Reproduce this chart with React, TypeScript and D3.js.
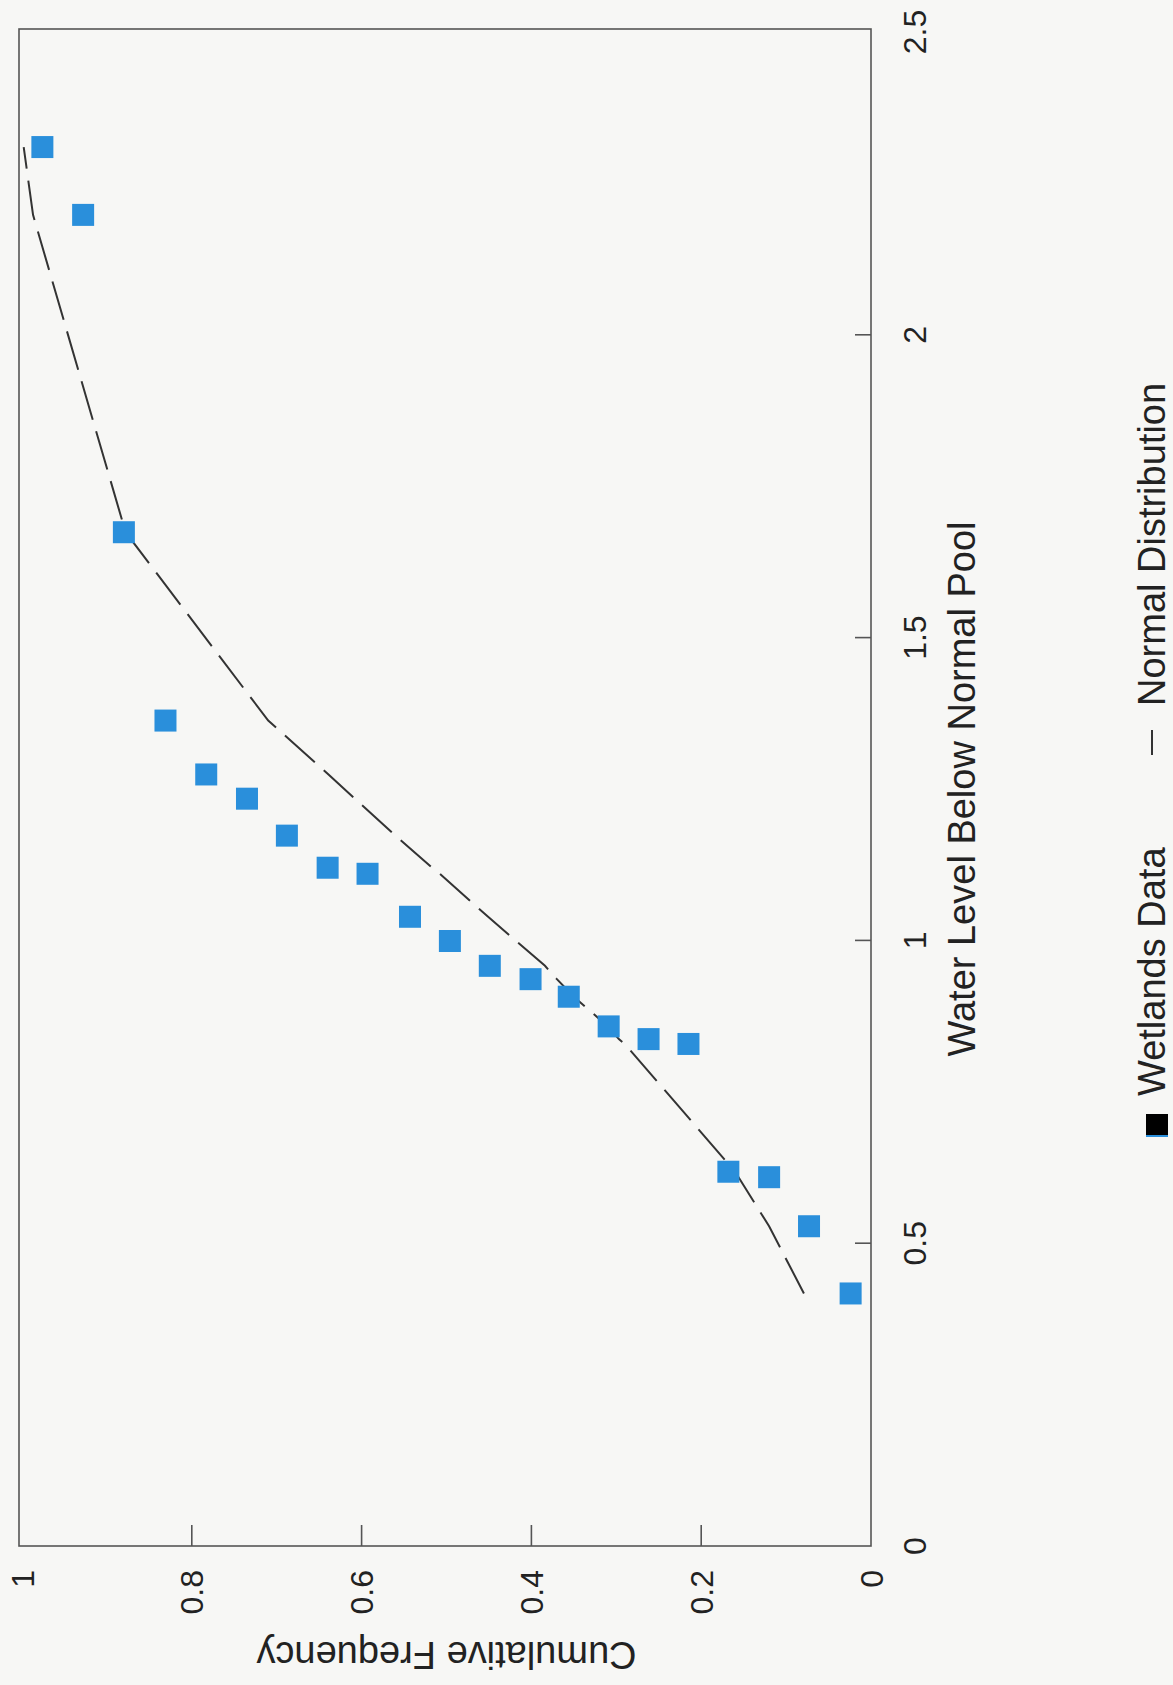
import React from 'react';
import * as d3 from 'd3';

// Wetlands data (water level below normal pool, cumulative frequency)
const wetlandsLevel = [0.417, 0.528, 0.609, 0.618, 0.829, 0.837, 0.858, 0.907, 0.936, 0.958, 0.999, 1.039, 1.110, 1.120, 1.173, 1.234, 1.274, 1.363, 1.674, 2.198, 2.310];
const wetlandsFreq = [0.024, 0.073, 0.120, 0.168, 0.215, 0.262, 0.309, 0.356, 0.401, 0.449, 0.496, 0.543, 0.593, 0.640, 0.688, 0.735, 0.783, 0.831, 0.880, 0.928, 0.976];
// Normal distribution curve evaluated at the same water levels
const normalFreq = [0.079, 0.120, 0.156, 0.160, 0.290, 0.297, 0.310, 0.350, 0.370, 0.384, 0.418, 0.451, 0.508, 0.517, 0.560, 0.608, 0.639, 0.710, 0.878, 0.987, 0.998];

const levelTicks = [0, 0.5, 1, 1.5, 2, 2.5];
const levelTickLabels = ['0', '0.5', '1', '1.5', '2', '2.5'];
const freqTicks = [0, 0.2, 0.4, 0.6, 0.8, 1];
const freqTickLabels = ['0', '0.2', '0.4', '0.6', '0.8', '1'];

const xTitle = 'Water Level Below Normal Pool';
const yTitle = 'Cumulative Frequency';
const legendLabels = ['Wetlands Data', 'Normal Distribution'];

const W = 1173;
const H = 1685;
const FONT = "'Liberation Sans', Arial, Helvetica, sans-serif";

export default function App() {
  const left = 19, right = 871, top = 29, bottom = 1546;
  // chart is rotated: cumulative frequency runs horizontally (1 at left), water level runs vertically (0 at bottom)
  const xC = d3.scaleLinear().domain([0, 1]).range([871, 22]);
  const yW = d3.scaleLinear().domain([0, 2.5]).range([1546, 32]);

  const lineGen = d3
    .line<number>()
    .x((_, i) => xC(normalFreq[i]))
    .y((d) => yW(d));
  const linePath = lineGen(wetlandsLevel) || '';

  const sq = 22;
  const textColor = '#222';

  return (
    <svg
      width={W}
      height={H}
      style={{ position: 'absolute', left: 0, top: 0, display: 'block' }}
      fontFamily={FONT}
    >
      <rect x={0} y={0} width={W} height={H} fill="#f7f7f5" />

      {/* frame */}
      <rect x={left} y={top} width={right - left} height={bottom - top} fill="none" stroke="#555" strokeWidth={1.6} />

      {/* water level axis ticks (right side, pointing inward) */}
      {levelTicks.map((t, i) => (
        <g key={'lt' + i}>
          {t > 0 && t < 2.5 && (
            <line x1={right - 16} x2={right} y1={yW(t)} y2={yW(t)} stroke="#555" strokeWidth={1.6} />
          )}
          <text
            transform={`translate(${926},${yW(t)}) rotate(-90)`}
            textAnchor="middle"
            fontSize={32}
            fill={textColor}
          >
            {levelTickLabels[i]}
          </text>
        </g>
      ))}

      {/* cumulative frequency axis ticks (bottom, pointing inward) */}
      {freqTicks.map((t, i) => (
        <g key={'ft' + i}>
          {t > 0 && t < 1 && (
            <line x1={xC(t)} x2={xC(t)} y1={bottom - 21} y2={bottom} stroke="#555" strokeWidth={1.6} />
          )}
          <text
            transform={`translate(${xC(t)},${1570}) rotate(-90)`}
            textAnchor="end"
            dy="0.36em"
            fontSize={32}
            fill={textColor}
          >
            {freqTickLabels[i]}
          </text>
        </g>
      ))}

      {/* axis titles */}
      <text
        transform={`translate(${975},${yW(1.25)}) rotate(-90)`}
        textAnchor="middle"
        fontSize={38}
        fill={textColor}
      >
        {xTitle}
      </text>
      <text
        transform={`translate(${xC(0.5)},${1642}) rotate(180)`}
        textAnchor="middle"
        fontSize={38}
        fill={textColor}
      >
        {yTitle}
      </text>

      {/* normal distribution dashed line */}
      <path d={linePath} fill="none" stroke="#333" strokeWidth={2} strokeDasharray="40 12" />

      {/* wetlands data squares */}
      {wetlandsLevel.map((w, i) => (
        <rect
          key={'p' + i}
          x={xC(wetlandsFreq[i]) - sq / 2}
          y={yW(w) - sq / 2}
          width={sq}
          height={sq}
          fill="#2a8fdb"
        />
      ))}

      {/* legend */}
      <rect x={1157 - 11} y={1125 - 11} width={22} height={22} fill="#000" />
      <line x1={1146} x2={1168} y1={1136} y2={1136} stroke="#2a8fdb" strokeWidth={2} />
      <text transform={`translate(${1165},${1096}) rotate(-90)`} textAnchor="start" fontSize={38} fill={textColor}>
        {legendLabels[0]}
      </text>
      <line x1={1152} x2={1152} y1={730} y2={755} stroke="#333" strokeWidth={2} />
      <text transform={`translate(${1165},${706}) rotate(-90)`} textAnchor="start" fontSize={38} fill={textColor}>
        {legendLabels[1]}
      </text>
    </svg>
  );
}
